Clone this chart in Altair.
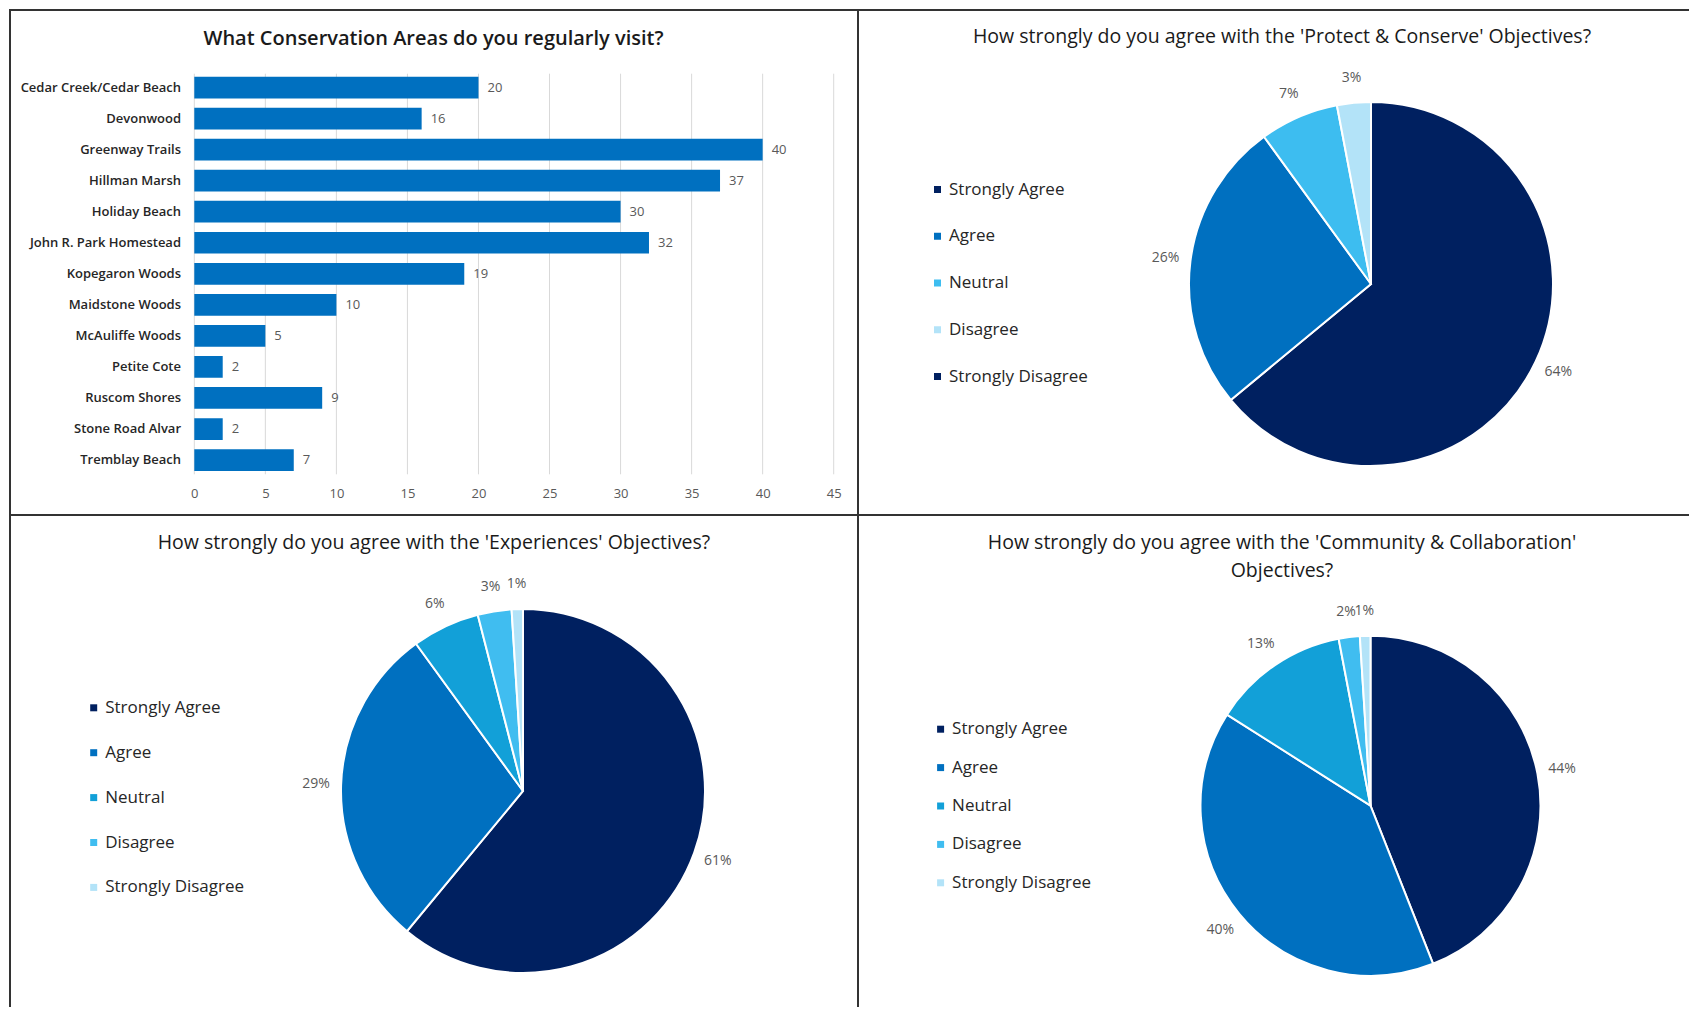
import altair as alt
import pandas as pd

# ---------------- data ----------------
areas = ["Cedar Creek/Cedar Beach", "Devonwood", "Greenway Trails", "Hillman Marsh",
         "Holiday Beach", "John R. Park Homestead", "Kopegaron Woods", "Maidstone Woods",
         "McAuliffe Woods", "Petite Cote", "Ruscom Shores", "Stone Road Alvar", "Tremblay Beach"]
visits = [20, 16, 40, 37, 30, 32, 19, 10, 5, 2, 9, 2, 7]
x_ticks = [0, 5, 10, 15, 20, 25, 30, 35, 40, 45]

responses = ["Strongly Agree", "Agree", "Neutral", "Disagree", "Strongly Disagree"]
protect_pct = [64, 26, 7, 3]          # no 'Strongly Disagree' slice
experiences_pct = [61, 29, 6, 3, 1]
community_pct = [44, 40, 13, 2, 1]

titles = [
    "What Conservation Areas do you regularly visit?",
    "How strongly do you agree with the 'Protect & Conserve' Objectives?",
    "How strongly do you agree with the 'Experiences' Objectives?",
    "How strongly do you agree with the 'Community & Collaboration'\nObjectives?",
]

protect_colors = ["#002060", "#0070C0", "#3DBDF0", "#B3E3F8", "#002060"]
other_colors = ["#002060", "#0070C0", "#12A0D8", "#40BDF0", "#B3E3F8"]

# ---------------- layout ----------------
W, H = 1680, 998
FONT = "Open Sans"
BORDER = "#333333"

one = pd.DataFrame({"k": [0]})


def hline(y, x1, x2):
    return alt.Chart(one).mark_rule(color=BORDER, strokeWidth=2).encode(
        x=alt.value(x1), x2=alt.value(x2), y=alt.value(y))


def vline(x, y1, y2):
    return alt.Chart(one).mark_rule(color=BORDER, strokeWidth=2).encode(
        x=alt.value(x), y=alt.value(y1), y2=alt.value(y2))


borders = [hline(1, 0, W), hline(506, 0, W), vline(1, 0, H), vline(849, 0, H)]


def title_text(t, x, y, size, weight="normal"):
    return alt.Chart(pd.DataFrame({"t": [t]})).mark_text(
        fontSize=size, fontWeight=weight, color="#1a1a1a", align="center", baseline="middle",
        lineBreak="\n", lineHeight=27.5, font=FONT
    ).encode(text="t:N", x=alt.value(x), y=alt.value(y))


title_layers = [
    title_text(titles[0], 424.5, 30, 20, 600),
    title_text(titles[1], 1273, 28, 19.5),
    title_text(titles[2], 425, 534, 19.5),
    title_text(titles[3], 1273, 534, 19.5),
]

# ---------------- bar chart ----------------
bar_df = pd.DataFrame({"area": areas, "visits": visits})
tick_df = pd.DataFrame({"tick": x_ticks})

x_scale = alt.Scale(domain=[0, 45], range=[185.3, 824.7], nice=False, zero=True)
y_scale = alt.Scale(domain=areas, range=[63, 466.6], paddingInner=0.3, paddingOuter=0.15)

x_axis = alt.Axis(values=x_ticks, title=None, grid=False, domain=False, ticks=False,
                  tickSize=0, labelPadding=13, labelFontSize=13, labelColor="#595959",
                  labelFont=FONT, labelFlush=False, labelOverlap=False,
                  offset=465.3 - H)
y_axis = alt.Axis(title=None, grid=False, domain=False, ticks=False, tickSize=0,
                  labelPadding=13.8, labelFontSize=13, labelFontWeight=600,
                  labelColor="#262626", labelFont=FONT, labelLimit=300, offset=-185.3)

grid = alt.Chart(tick_df).mark_rule(color="#D9D9D9", strokeWidth=1).encode(
    x=alt.X("tick:Q", scale=x_scale, axis=x_axis),
    y=alt.value(64.7), y2=alt.value(465.3))

bars = alt.Chart(bar_df).mark_bar(color="#0070C0").encode(
    x=alt.X("visits:Q", scale=x_scale, axis=x_axis),
    y=alt.Y("area:N", scale=y_scale, axis=y_axis))

bar_labels = alt.Chart(bar_df).mark_text(
    align="left", baseline="middle", dx=9, fontSize=13, color="#595959", font=FONT
).encode(
    x=alt.X("visits:Q", scale=x_scale, axis=x_axis),
    y=alt.Y("area:N", scale=y_scale, axis=y_axis),
    text="visits:Q")


# ---------------- pies ----------------
def pie(values, colors, cx, cy, r, lx, ly, row_pad):
    df = pd.DataFrame({
        "response": responses[:len(values)],
        "pct": values,
        "idx": list(range(len(values))),
        "label": [f"{v}%" for v in values],
    })
    base = alt.Chart(df).encode(
        theta=alt.Theta("pct:Q", stack=True),
        order=alt.Order("idx:Q"))
    arcs = base.mark_arc(radius=r, stroke="white", strokeWidth=2).encode(
        color=alt.Color("response:N",
                        scale=alt.Scale(domain=responses, range=colors),
                        legend=alt.Legend(orient="none", legendX=lx, legendY=ly, title=None,
                                          symbolType="square", symbolSize=49,
                                          symbolStrokeWidth=0, symbolOpacity=1,
                                          labelFontSize=17, labelColor="#262626",
                                          labelFont=FONT, rowPadding=row_pad, padding=0,
                                          labelOffset=3, labelLimit=300)),
        x=alt.value(cx), y=alt.value(cy))
    labels = base.mark_text(radius=r + 25, fontSize=14, color="#595959", font=FONT).encode(
        text="label:N", x=alt.value(cx), y=alt.value(cy))
    return alt.layer(arcs, labels)


pie1 = pie(protect_pct, protect_colors, 1362, 275, 182, 920, 172, 28.75)
pie2 = pie(experiences_pct, other_colors, 514, 782, 182, 76.2, 690.3, 26.9)
pie3 = pie(community_pct, other_colors, 1361.5, 796.7, 170, 923.1, 711.7, 20.4)

chart = alt.layer(
    *borders, grid, bars, bar_labels, *title_layers, pie1, pie2, pie3
).resolve_scale(
    theta="independent", color="independent"
).properties(
    width=W, height=H, padding=0
).configure(
    font=FONT
).configure_view(
    strokeWidth=0, stroke=None
)

chart.save("out.html", embed_options={"renderer": "svg", "actions": False})
